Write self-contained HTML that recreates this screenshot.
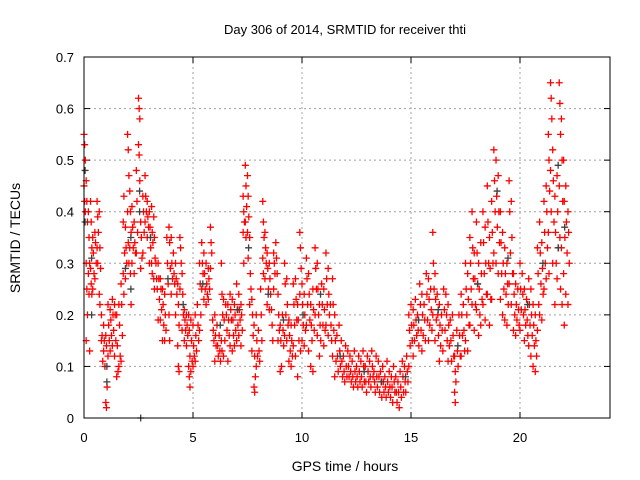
<!DOCTYPE html>
<html><head><meta charset="utf-8"><style>
body{margin:0;background:#fff}
svg{display:block;font-family:"Liberation Sans",Arial,sans-serif}
</style></head><body>
<svg id="chart" width="640" height="480" xmlns="http://www.w3.org/2000/svg">
<text x="345" y="34" font-size="13" text-anchor="middle" fill="#000">Day 306 of 2014, SRMTID for receiver thti</text>
<text transform="translate(20,238) rotate(-90)" font-size="14" text-anchor="middle" fill="#000">SRMTID / TECUs</text>
<text x="345" y="471" font-size="14" text-anchor="middle" fill="#000">GPS time / hours</text>
<g id="grid"></g>
<g id="ticks"></g>
<g id="marks"></g>
<rect x="84" y="57" width="526" height="361" fill="none" stroke="#000" stroke-width="1"/>
</svg>
<script>
const xTicks=[0,5,10,15,20];
const yTicks=[0,0.1,0.2,0.3,0.4,0.5,0.6,0.7];
const yTickLabels=["0","0.1","0.2","0.3","0.4","0.5","0.6","0.7"];
const redHours=[0.0,0.1,0.2,0.3,0.4,0.5,0.6,0.7,0.8,0.9,1.0,1.1,1.2,1.3,1.4,1.5,1.6,1.7,1.8,1.9,2.0,2.1,2.2,2.3,2.4,2.5,2.6,2.7,2.8,2.9,3.0,3.1,3.2,3.3,3.4,3.5,3.6,3.7,3.8,3.9,4.0,4.1,4.2,4.3,4.4,4.5,4.6,4.7,4.8,4.9,5.0,5.1,5.2,5.3,5.4,5.5,5.6,5.7,5.8,5.9,6.0,6.1,6.2,6.3,6.4,6.5,6.6,6.7,6.8,6.9,7.0,7.1,7.2,7.3,7.4,7.5,7.6,7.7,7.8,7.9,8.0,8.1,8.2,8.3,8.4,8.5,8.6,8.7,8.8,8.9,9.0,9.1,9.2,9.3,9.4,9.5,9.6,9.7,9.8,9.9,10.0,10.1,10.2,10.3,10.4,10.5,10.6,10.7,10.8,10.9,11.0,11.1,11.2,11.3,11.4,11.5,11.6,11.7,11.8,11.9,12.0,12.1,12.2,12.3,12.4,12.5,12.6,12.7,12.8,12.9,13.0,13.1,13.2,13.3,13.4,13.5,13.6,13.7,13.8,13.9,14.0,14.1,14.2,14.3,14.4,14.5,14.6,14.7,14.8,14.9,15.0,15.1,15.2,15.3,15.4,15.5,15.6,15.7,15.8,15.9,16.0,16.1,16.2,16.3,16.4,16.5,16.6,16.7,16.8,16.9,17.0,17.1,17.2,17.3,17.4,17.5,17.6,17.7,17.8,17.9,18.0,18.1,18.2,18.3,18.4,18.5,18.6,18.7,18.8,18.9,19.0,19.1,19.2,19.3,19.4,19.5,19.6,19.7,19.8,19.9,20.0,20.1,20.2,20.3,20.4,20.5,20.6,20.7,20.8,20.9,21.0,21.1,21.2,21.3,21.4,21.5,21.6,21.7,21.8,21.9,22.0,22.1,22.2];
const redValues=[
[.55,.53,.50,.45,.42,.40],[.46,.42,.38,.30,.25,.20,.15],[.40,.35,.30,.28,.24,.13],[.42,.38,.33,.29,.26,.24],[.35,.32,.28,.25],[.36,.34,.30,.27],[.42,.39,.36,.33,.30],[.40,.33,.29,.24,.22],[.20,.16,.11,.15],[.18,.15,.10,.13],
[.16,.14,.06,.03,.02],[.22,.18,.15,.12],[.21,.19,.16,.13],[.23,.20,.17,.14],[.22,.20,.15,.12],[.20,.14,.09,.08],[.22,.18,.12,.10],[.26,.22,.16,.11],[.38,.43,.32,.28,.24],[.37,.33,.30,.27],
[.55,.52,.47,.40,.34,.30],[.44,.40,.36,.33,.28,.22],[.41,.37,.33,.30],[.38,.34,.32,.28],[.48,.42,.36,.32],[.62,.60,.58,.53,.51,.46],[.38,.35,.31,.29],[.43,.40,.36,.32],[.47,.43,.40,.38],[.42,.39,.37,.35],
[.40,.37,.33,.30],[.41,.36,.34,.30,.28],[.39,.35,.31,.27,.25],[.30,.27,.25],[.30,.27,.23,.19],[.27,.25,.21,.19],[.25,.22,.18,.15],[.24,.20,.17,.15],[.35,.30,.26],[.37,.34,.29,.20,.15],
[.35,.30,.27,.24],[.32,.28,.26],[.30,.27,.24,.20],[.26,.22,.18,.14,.10,.09],[.35,.33,.30,.25],[.28,.24,.20,.17],[.21,.19,.17,.15],[.20,.18,.16,.14],[.20,.17,.12,.10,.08,.06],[.19,.15,.11,.09],
[.18,.14,.12,.10],[.20,.16,.13,.11],[.22,.18,.15],[.30,.26,.20,.17],[.34,.30,.28,.25],[.32,.28,.25,.23],[.30,.26,.24,.22],[.29,.27,.25,.23],[.37,.34,.32,.29],[.19,.17,.15],
[.20,.16,.14,.11],[.18,.14,.12],[.16,.13,.11],[.30,.24,.20,.15,.13],[.23,.19,.15,.12],[.22,.20,.17],[.22,.19,.16,.11],[.24,.21,.19,.14],[.23,.19,.16,.13],[.22,.20,.17,.14],
[.26,.21,.18,.15],[.24,.21,.19,.16],[.22,.20,.17,.14],[.43,.40,.38,.36,.30],[.49,.45,.41,.38,.35],[.47,.43,.39,.36,.31],[.35,.28,.25,.22],[.23,.20,.16,.13],[.18,.12,.08,.06,.05],[.20,.15,.12,.10],
[.17,.13,.11],[.25,.20,.15],[.42,.38,.35,.31,.28],[.36,.33,.30,.27],[.32,.29,.25,.22],[.30,.27,.24,.21],[.21,.18,.15],[.32,.30,.28,.25],[.34,.31,.28],[.24,.20,.17,.15],
[.18,.15,.10,.09],[.20,.17,.14],[.30,.26,.20,.16],[.27,.22,.18,.15],[.19,.16,.13,.11],[.18,.15,.12,.10],[.26,.22,.18,.14],[.27,.23,.19,.12],[.22,.19,.15,.08],[.36,.33,.29,.24,.13],
[.26,.22,.18,.15],[.24,.20,.17,.14],[.31,.27,.22,.18],[.28,.24,.19,.13],[.22,.18,.15,.10],[.25,.21,.17,.09],[.33,.29,.25,.20],[.30,.25,.20,.16],[.22,.18,.15,.12],[.26,.22,.18],
[.25,.21,.17,.14],[.32,.27,.22,.18],[.29,.24,.20,.16],[.22,.18,.15],[.27,.22,.17,.12],[.20,.15,.11,.08],[.16,.12,.09],[.18,.13,.10],[.15,.11,.08],[.12,.09,.07],
[.14,.10,.08],[.13,.10,.08],[.12,.09,.07],[.11,.08,.06],[.13,.09,.07],[.10,.08,.06],[.12,.09,.07],[.11,.08,.06],[.13,.10,.07],[.10,.07,.05],
[.12,.09,.07],[.11,.08,.06],[.13,.10,.08],[.09,.07,.05],[.12,.08,.06],[.11,.08,.05],[.09,.07,.04],[.10,.07,.05],[.08,.06,.04],[.11,.07,.05],
[.09,.06,.04],[.08,.06,.03],[.10,.07,.05],[.08,.05,.03],[.07,.05,.02],[.09,.06,.04],[.11,.08,.05],[.10,.07,.05],[.12,.09,.07],[.20,.17,.14,.10],
[.22,.18,.15],[.21,.18,.15,.12],[.23,.19,.16],[.20,.17,.14],[.26,.22,.17],[.24,.20,.16,.13],[.22,.19,.15],[.28,.24,.19],[.27,.23,.18,.15],[.25,.21,.17],
[.36,.30,.25,.20],[.28,.23,.19,.15],[.24,.20,.16],[.22,.18,.14,.11],[.20,.17,.13],[.25,.21,.17],[.24,.20,.15],[.22,.18,.14,.11],[.19,.15,.11],[.20,.16,.12],
[.12,.09,.07,.05,.03],[.17,.13,.10],[.20,.16,.12],[.24,.20,.16,.12],[.22,.17,.13],[.30,.25,.20,.15],[.28,.23,.18,.13],[.35,.30,.25,.18],[.40,.33,.27,.22],[.32,.27,.22,.17],
[.38,.32,.26,.21],[.30,.25,.20,.16],[.34,.28,.23,.18],[.40,.34,.28,.22],[.37,.30,.24,.19],[.45,.38,.30,.24],[.35,.29,.23,.18],[.42,.36,.30,.23],[.52,.46,.40,.32],[.50,.43,.37,.30],
[.47,.40,.34,.28],[.40,.34,.28,.23],[.36,.30,.25,.20],[.33,.28,.24,.19],[.30,.26,.22,.18],[.46,.40,.32,.26],[.42,.35,.28,.22],[.28,.24,.20,.17],[.26,.22,.19,.16],[.25,.21,.18],
[.30,.25,.21,.17],[.28,.24,.20],[.25,.21,.18,.15],[.23,.19,.16],[.27,.22,.18,.14],[.25,.20,.16,.12],[.22,.18,.14,.10],[.20,.15,.12,.09],[.33,.28,.22,.17],[.38,.32,.26,.20],
[.34,.29,.24,.19],[.42,.36,.30,.25],[.45,.40,.33,.27],[.55,.50,.44,.36,.28],[.65,.62,.58,.48,.40],[.52,.46,.38,.30],[.43,.36,.30,.22],[.47,.40,.33,.27],[.65,.61,.55,.45,.35,.25],[.58,.50,.42,.33,.22],
[.50,.42,.35,.28,.18],[.45,.38,.32,.24],[.40,.36,.30,.22]];
const grayHours=[0.05,0.35,1.05,1.9,2.15,2.55,2.6,3.05,3.85,4.55,5.45,6.25,7.05,7.55,8.45,9.15,10.05,10.85,11.75,12.85,13.65,14.75,15.35,16.25,17.15,18.05,18.95,19.45,20.35,21.05,21.75,22.05];
const grayValues=[[.48,.38],[.31,.20],[.10,.07],[.29],[.35,.25],[.44,.40],[0],[.35],[.27],[.22],[.26],[.18],[.21],[.33],[.24],[.19],[.20],[.24],[.12],[.09],[.07],[.08],[.19],[.21],[.14],[.26],[.44],[.31],[.22],[.30],[.49,.33],[.37]];

const X=h=>84+h*21.8;
const Y=v=>418-v*(361/0.7);
const ns="http://www.w3.org/2000/svg";
function mk(tag,attrs,parent){const e=document.createElementNS(ns,tag);for(const k in attrs)e.setAttribute(k,attrs[k]);parent.appendChild(e);return e;}
const grid=document.getElementById('grid'),ticks=document.getElementById('ticks'),marks=document.getElementById('marks');
xTicks.forEach(t=>{
  const x=X(t);
  if(t>0){const g=mk('line',{x1:x,y1:57,x2:x,y2:418,stroke:'#a0a0a0','stroke-dasharray':'2,3'},grid);
  
  }
  mk('line',{x1:x,y1:418,x2:x,y2:412,stroke:'#000'},ticks);
  mk('line',{x1:x,y1:57,x2:x,y2:63,stroke:'#000'},ticks);
  const l=mk('text',{x:x,y:442,'font-size':13,'text-anchor':'middle'},ticks);l.textContent=t;
  
  
});
yTicks.forEach((t,i)=>{
  const y=Y(t);
  if(t>0&&t<0.7){const g=mk('line',{x1:84,y1:y,x2:610,y2:y,stroke:'#a0a0a0','stroke-dasharray':'2,3'},grid);
  
  }
  mk('line',{x1:84,y1:y,x2:90,y2:y,stroke:'#000'},ticks);
  mk('line',{x1:610,y1:y,x2:604,y2:y,stroke:'#000'},ticks);
  const l=mk('text',{x:74,y:y+5,'font-size':13,'text-anchor':'end'},ticks);l.textContent=yTickLabels[i];
  
  
});
function plus(h,v,color){
  const x=X(h),y=Y(v);
  const p=mk('path',{d:`M${x-3.5} ${y}H${x+3.5}M${x} ${y-3.5}V${y+3.5}`,stroke:color,'stroke-width':1.3,fill:'none'},marks);
  
  
}
redHours.forEach((h,i)=>redValues[i].forEach((v,j)=>plus(h+(j%3)*0.03,v,'#ff0000')));
grayHours.forEach((h,i)=>grayValues[i].forEach(v=>plus(h,v,'#404040')));
</script>
</body></html>
